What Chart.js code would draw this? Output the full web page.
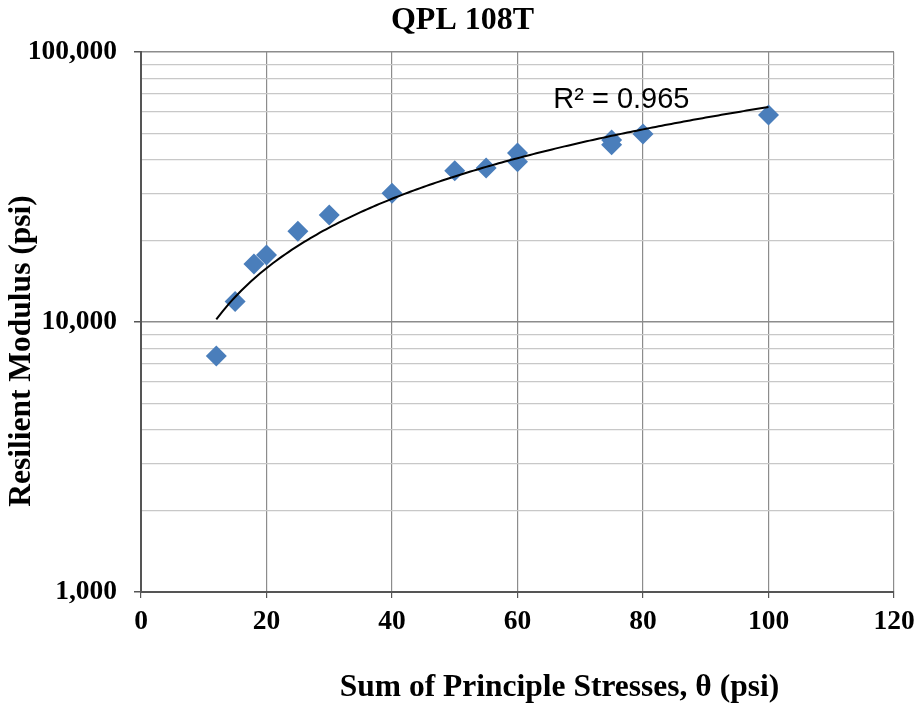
<!DOCTYPE html>
<html>
<head>
<meta charset="utf-8">
<script src="https://cdn.jsdelivr.net/npm/chart.js@4.4.0/dist/chart.umd.min.js"></script>
<style>
  html, body { margin: 0; padding: 0; background: #fff; }
</style>
</head>
<body>
<canvas id="c" width="917" height="710"></canvas>
<script>
// values
const stress = [12, 15, 18, 20, 25, 30, 40, 50, 55, 60, 60, 75, 75, 80, 100]
const modulus = [7480, 11900, 16400, 17700, 21700, 24900, 30000, 36300, 37200, 42300, 39200, 47200, 45300, 49700, 58400]
const xTicks = [0, 20, 40, 60, 80, 100, 120]
const yTicks = [1000, 2000, 3000, 4000, 5000, 6000, 7000, 8000, 9000,
                10000, 20000, 30000, 40000, 50000, 60000, 70000, 80000, 90000, 100000]
const chartTitle = 'QPL 108T'
const xTitle = 'Sum of Principle Stresses, \u03b8 (psi)'
const yTitle = 'Resilient Modulus (psi)'
const rSquaredText = 'R\u00b2 = 0.965'

const serif = "'Liberation Serif', 'Times New Roman', serif"
const isDecade = v => Math.abs(Math.log10(v) - Math.round(Math.log10(v))) < 1e-9

// power trend line y = a * x^b, least squares in log-log like Excel does
function powerFit(xs, ys) {
    let lx = xs.map(Math.log), ly = ys.map(Math.log)
    let n = xs.length
    let mx = lx.reduce((s, v) => s + v, 0) / n
    let my = ly.reduce((s, v) => s + v, 0) / n
    let sxy = 0, sxx = 0
    for (let i = 0; i < n; i++) {
        sxy += (lx[i] - mx) * (ly[i] - my)
        sxx += (lx[i] - mx) * (lx[i] - mx)
    }
    let b = sxy / sxx
    return { a: Math.exp(my - b * mx), b: b }
}

const fit = powerFit(stress, modulus)
const xMin = Math.min(...stress), xMax = Math.max(...stress)
let trend = []
for (let x = xMin; x <= xMax; x += 0.5) {
    trend.push({ x: x, y: fit.a * Math.pow(x, fit.b) })
}

const textPlugin = {
    id: 'texts',
    afterDraw(chart) {
        const ctx = chart.ctx
        const a = chart.chartArea
        ctx.save()
        ctx.fillStyle = '#000'
        ctx.textAlign = 'center'
        ctx.textBaseline = 'middle'
        ctx.font = 'bold 32px ' + serif
        ctx.fillText(chartTitle, (a.left + a.right) / 2 - 55, 21)
        ctx.font = 'bold 31.5px ' + serif
        ctx.fillText(xTitle, (a.left + a.right) / 2 + 42, 688)
        ctx.translate(22, (a.top + a.bottom) / 2 + 29)
        ctx.rotate(-Math.PI / 2)
        ctx.fillText(yTitle, 0, 0)
        ctx.restore()

        // R² label next to the trend line
        ctx.save()
        ctx.fillStyle = '#000'
        ctx.font = "29px 'Liberation Sans', Arial, sans-serif"
        ctx.textAlign = 'left'
        ctx.textBaseline = 'middle'
        ctx.fillText(rSquaredText, chart.scales.x.getPixelForValue(65.7), chart.scales.y.getPixelForValue(66400))
        ctx.restore()
    }
}

new Chart(document.getElementById('c'), {
    type: 'scatter',
    data: {
        datasets: [{
            type: 'line',
            data: trend,
            borderColor: '#000',
            borderWidth: 2,
            pointRadius: 0,
            fill: false,
            order: 0
        },
        {
            data: stress.map((x, i) => ({ x: x, y: modulus[i] })),
            pointStyle: 'rectRot',
            pointRadius: 10.5,
            backgroundColor: '#4a7ebb',
            borderColor: '#4a7ebb',
            borderWidth: 0,
            order: 1
        }]
    },
    options: {
        responsive: false,
        animation: false,
        layout: { padding: { left: 0, right: 23, top: 52, bottom: 0 } },
        plugins: {
            legend: { display: false },
            tooltip: { enabled: false },
            title: { display: false }
        },
        scales: {
            x: {
                type: 'linear',
                min: 0,
                max: 120,
                afterBuildTicks: s => { s.ticks = xTicks.map(v => ({ value: v })) },
                afterFit: s => { s.height = 118; s.paddingRight = 0; s.paddingLeft = 0 },
                ticks: {
                    color: '#000',
                    font: { family: serif, size: 27.5, weight: 'bold' },
                    padding: 7
                },
                grid: { color: '#8c8c8c', lineWidth: 1.2, tickLength: 6, tickColor: '#555' },
                border: { color: '#555', width: 2 }
            },
            y: {
                type: 'logarithmic',
                min: 1000,
                max: 100000,
                afterBuildTicks: s => { s.ticks = yTicks.map(v => ({ value: v, major: isDecade(v) })) },
                afterFit: s => { s.width = 141; s.paddingTop = 0; s.paddingBottom = 0 },
                ticks: {
                    autoSkip: false,
                    color: '#000',
                    font: { family: serif, size: 27.5, weight: 'bold' },
                    padding: 17,
                    callback: v => isDecade(v) ? Number(v).toLocaleString('en-US') : ''
                },
                grid: {
                    color: c => (c.tick && isDecade(c.tick.value)) ? '#8c8c8c' : '#c8c8c8',
                    lineWidth: c => (c.tick && isDecade(c.tick.value)) ? 1.5 : 1.2,
                    tickLength: 7,
                    tickColor: c => (c.tick && isDecade(c.tick.value)) ? '#555' : 'rgba(0,0,0,0)'
                },
                border: { color: '#555', width: 2 }
            }
        }
    },
    plugins: [textPlugin]
})
</script>
</body>
</html>
